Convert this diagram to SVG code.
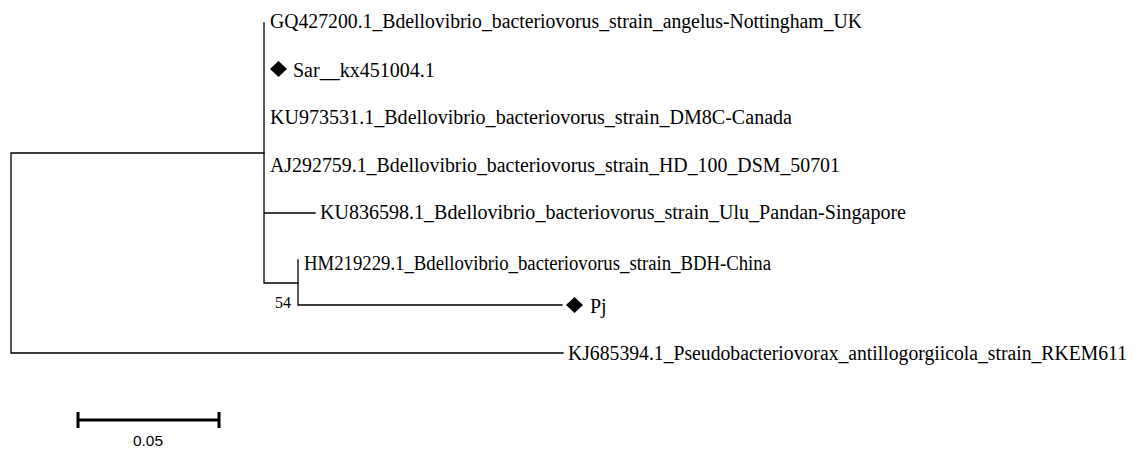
<svg xmlns="http://www.w3.org/2000/svg" width="1137" height="450" viewBox="0 0 1137 450">
  <style>
    .br { stroke: #000; stroke-width: 1.3; fill: none; stroke-linecap: square; }
    .lb { font-family: "Liberation Serif", "Times New Roman", serif; font-size: 20px; fill: #000; }
    .bs { font-family: "Liberation Serif", "Times New Roman", serif; font-size: 16px; fill: #000; }
    .sc { font-family: "Liberation Sans", Arial, sans-serif; font-size: 15.5px; fill: #000; }
    .dm { fill: #000; }
  </style>
  <rect width="1137" height="450" fill="#fff"/>
  <g id="connectors">
    <path class="br" d="M11,153 V353 M11,153 H264 M11,353 H563"/>
    <path class="br" d="M264,23 V283 M264,213 H315 M264,283 H298"/>
    <path class="br" d="M298,260 V305 M298,305 H562"/>
  </g>
  <g id="n_GQ427200"><text class="lb" x="270" y="28" textLength="592" lengthAdjust="spacingAndGlyphs">GQ427200.1_Bdellovibrio_bacteriovorus_strain_angelus-Nottingham_UK</text></g>
  <g id="n_Sar"><path class="dm" d="M270,69 L278.5,61 L287,69 L278.5,77 Z"/><text class="lb" x="293" y="77">Sar__kx451004.1</text></g>
  <g id="n_KU973531"><text class="lb" x="270" y="124" textLength="522" lengthAdjust="spacingAndGlyphs">KU973531.1_Bdellovibrio_bacteriovorus_strain_DM8C-Canada</text></g>
  <g id="n_AJ292759"><text class="lb" x="270" y="172" textLength="570" lengthAdjust="spacingAndGlyphs">AJ292759.1_Bdellovibrio_bacteriovorus_strain_HD_100_DSM_50701</text></g>
  <g id="n_KU836598"><text class="lb" x="320" y="219" textLength="586" lengthAdjust="spacingAndGlyphs">KU836598.1_Bdellovibrio_bacteriovorus_strain_Ulu_Pandan-Singapore</text></g>
  <g id="n_HM219229"><text class="lb" x="304" y="270" textLength="467" lengthAdjust="spacingAndGlyphs">HM219229.1_Bdellovibrio_bacteriovorus_strain_BDH-China</text></g>
  <g id="n_Pj"><path class="dm" d="M566,305 L574.5,297 L583,305 L574.5,313 Z"/><text class="lb" x="590" y="313">Pj</text></g>
  <g id="n_KJ685394"><text class="lb" x="568" y="360" textLength="559" lengthAdjust="spacingAndGlyphs">KJ685394.1_Pseudobacteriovorax_antillogorgiicola_strain_RKEM611</text></g>
  <g id="n_boot54"><text class="bs" x="275" y="308">54</text></g>
  <g id="scalebar">
    <path d="M78,420 H219 M78,412 V428 M219,412 V428" stroke="#000" stroke-width="3" fill="none"/>
    <text class="sc" x="148" y="446" text-anchor="middle">0.05</text>
  </g>
</svg>
